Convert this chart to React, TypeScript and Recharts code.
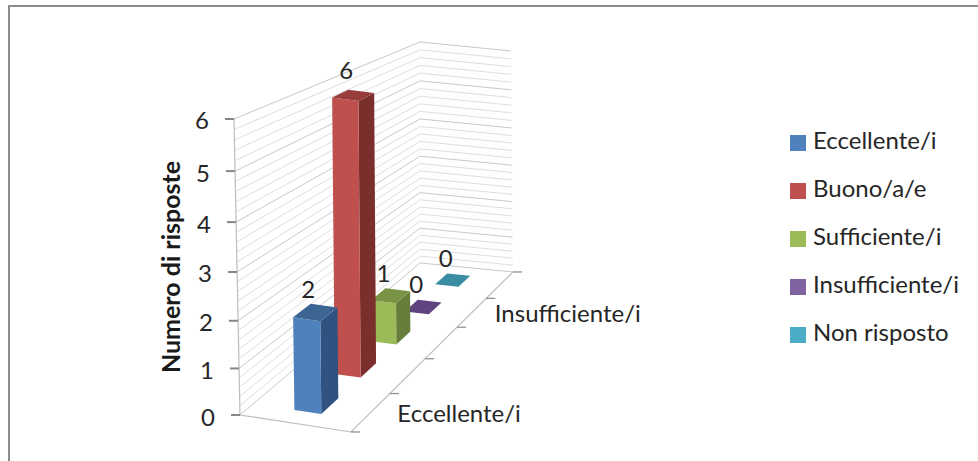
import React from "react";
import { BarChart, Bar, XAxis, YAxis, Legend } from "recharts";

const categories = ["Eccellente/i", "Buono/a/e", "Sufficiente/i", "Insufficiente/i", "Non risposto"];
const values = [2, 6, 1, 0, 0];
const yTicks = [0, 1, 2, 3, 4, 5, 6];
const depthLabels = ["Eccellente/i", "Insufficiente/i"];
const frontColors = ["#4F81BD", "#C0504D", "#9BBB59", "#8064A2", "#4BACC6"];
const sideColors = ["#2F5280", "#7A2F2D", "#677D3B", "#5F4480", "#3A8CA2"];
const topColors = ["#3D6594", "#983D3B", "#7A9446", "#5F4480", "#3A8CA2"];

const rows = categories.map((name, i) => ({ name, [name]: values[i] }));

const FONT = "Lato, 'Open Sans', sans-serif";
const TEXT = "#262626";
const FONT_SIZE = 24;

// plot box handed to recharts, the 3d look is projected from it
const PLOT = { left: 240, top: 119, width: 273, height: 296 };

// floor homography, unit square to the floor quad of the picture
const project = (u: number, t: number, h = 0) => {
  const w = 1 - 0.0356 * u + 0.2556 * t;
  const fx = (98.5 * u + 287.4 * t + 240) / w;
  const fy = (1.6 * u - 84.8 * t + 415) / w;
  // height gets a little stretched towards the top, and shrinks with depth
  const rise = (46 * h + 0.556 * h * h) * (1 - 0.2534 * t);
  const lean = -(1 - t) * (1 - t) * (1 - 0.7 * u) - 0.33 * u * t;
  return { x: fx + lean * h, y: fy - rise };
};

const pts = (list: { x: number; y: number }[]) => list.map((p) => `${p.x},${p.y}`).join(" ");

const U0 = 0.385;
const U1 = 0.63;
const HALF_DEPTH = 0.042;

function Bar3D(props: any) {
  const { x, width, height, index, series } = props;
  if (index !== series) return null;
  const t = (x + width / 2 - PLOT.left) / PLOT.width;
  const h = Math.abs(height) / (PLOT.height / 6);
  const t0 = t - HALF_DEPTH;
  const t1 = t + HALF_DEPTH;
  const top = [project(U0, t0, h), project(U1, t0, h), project(U1, t1, h), project(U0, t1, h)];
  const base = [project(U0, t0), project(U1, t0), project(U1, t1)];
  const cx = (top[0].x + top[2].x) / 2;
  const cy = (top[0].y + top[2].y) / 2;
  return (
    <g>
      {h > 0 && <polygon points={pts([top[1], top[2], base[2], base[1]])} fill={sideColors[series]} />}
      {h > 0 && <polygon points={pts([top[0], top[1], base[1], base[0]])} fill={frontColors[series]} />}
      <polygon points={pts(top)} fill={topColors[series]} />
      <text x={cx - 7} y={cy - 23 - h * 0.5} textAnchor="middle" dominantBaseline="central" fontSize={FONT_SIZE} fontFamily={FONT} fill={TEXT}>
        {values[series]}
      </text>
    </g>
  );
}

function Walls() {
  const lines = [];
  for (let k = 0; k <= 30; k++) {
    const h = k / 5;
    const major = k % 5 === 0;
    lines.push(
      <polyline
        key={k}
        points={pts([project(0, 0, h), project(0, 1, h), project(1, 1, h)])}
        fill="none"
        stroke={major ? "#c8c8c8" : "#dedede"}
        strokeWidth={1}
      />
    );
  }
  const depthTicks = [0, 0.2, 0.4, 0.6, 0.8, 1];
  return (
    <g>
      {lines}
      <polyline points={pts([project(0, 0, 6), project(0, 0), project(1, 0), project(1, 1)])} fill="none" stroke="#bdbdbd" strokeWidth={1.2} />
      {depthTicks.map((t) => {
        const p = project(1, t);
        return <line key={t} x1={p.x} y1={p.y} x2={p.x + 9} y2={p.y} stroke="#8a8a8a" strokeWidth={1.2} />;
      })}
    </g>
  );
}

function YTick(props: any) {
  const { y, payload } = props;
  const h = ((PLOT.top + PLOT.height - y) * 6) / PLOT.height;
  const p = project(0, 0, h);
  return (
    <g>
      <line x1={p.x - 9} y1={p.y} x2={p.x} y2={p.y} stroke="#868686" strokeWidth={2} />
      <text x={p.x - 25} y={p.y + 1} textAnchor="end" dominantBaseline="central" fontSize={FONT_SIZE} fontFamily={FONT} fill={TEXT}>
        {payload.value}
      </text>
    </g>
  );
}

function DepthTick(props: any) {
  const { payload } = props;
  if (!depthLabels.includes(payload.value)) return null;
  const t = (payload.coordinate - PLOT.left) / PLOT.width;
  const p = project(1, t);
  return (
    <text x={p.x + 27 - 6 * t} y={p.y} textAnchor="start" dominantBaseline="central" fontSize={FONT_SIZE} fontFamily={FONT} fill={TEXT}>
      {payload.value}
    </text>
  );
}

export default function App() {
  return (
    <div style={{ position: "absolute", left: 0, top: 0, width: 978, height: 461, overflow: "hidden", background: "#fff" }}>
      <div style={{ position: "absolute", left: 8, top: 5, width: 1100, height: 600, border: "2px solid #8c8c8c" }} />
      <div style={{ position: "absolute", left: 0, top: 0 }}>
        <BarChart
          width={978}
          height={461}
          data={rows}
          margin={{ top: PLOT.top, left: PLOT.left - 60, right: 978 - PLOT.left - PLOT.width, bottom: 0 }}
          barCategoryGap={0}
        >
          <Walls />
          <XAxis dataKey="name" height={46} interval={0} axisLine={false} tickLine={false} tick={<DepthTick />} />
          <YAxis
            width={60}
            domain={[0, 6]}
            ticks={yTicks}
            axisLine={false}
            tickLine={false}
            tick={<YTick />}
            label={{
              value: "Numero di risposte",
              angle: -90,
              position: "insideLeft",
              dx: -14,
              dy: 0,
              style: { fontFamily: FONT, fontSize: 25, fontWeight: 700, fill: "#1a1a1a", textAnchor: "middle" },
            }}
          />
          {categories
            .map((name, i) => (
              <Bar
                key={name}
                dataKey={name}
                stackId="a"
                fill={frontColors[i]}
                isAnimationActive={false}
                shape={(p: any) => <Bar3D {...p} series={i} />}
              />
            ))
            .reverse()}
          <Legend
            layout="vertical"
            align="center"
            verticalAlign="middle"
            iconType="square"
            iconSize={16}
            itemSorter={(item: any) => categories.indexOf(item.value)}
            wrapperStyle={{ left: 790, top: 116, width: 188, lineHeight: "44px" }}
            formatter={(value: string) => (
              <span style={{ color: TEXT, fontFamily: FONT, fontSize: FONT_SIZE, position: "relative", left: 3, top: 2 }}>{value}</span>
            )}
          />
        </BarChart>
      </div>
    </div>
  );
}
